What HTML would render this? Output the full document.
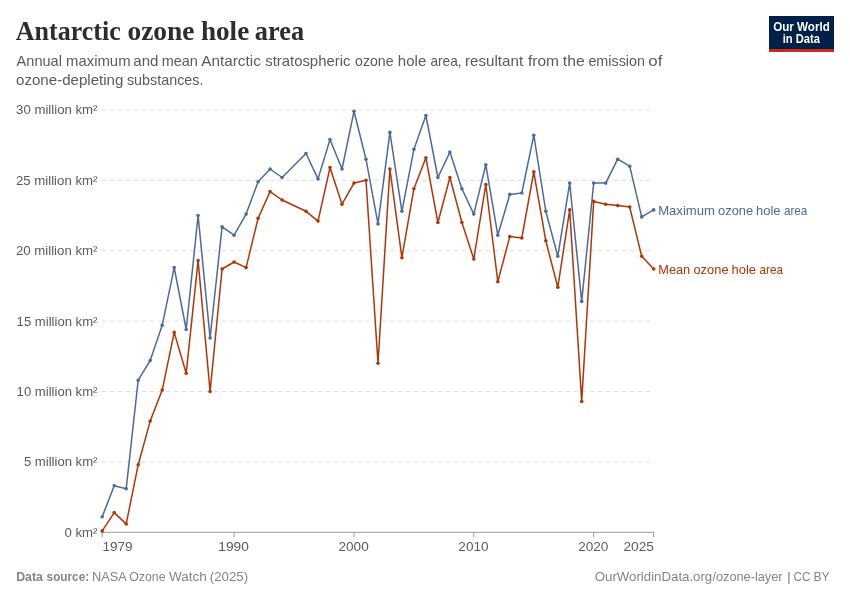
<!DOCTYPE html>
<html lang="en"><head><meta charset="utf-8"><title>Antarctic ozone hole area</title>
<style>
html,body{margin:0;padding:0;background:#fff}
body{width:850px;height:600px;overflow:hidden}
svg{display:block}
</style></head><body>
<svg width="850" height="600" viewBox="0 0 850 600">
<rect width="850" height="600" fill="#fff"/>
<text y="40.3" font-family='"Liberation Serif",serif' font-weight="700" font-size="27.5" fill="#2d2d2d"><tspan x="15.85" textLength="104.90" lengthAdjust="spacingAndGlyphs">Antarctic</tspan> <tspan x="127.45" textLength="67.06" lengthAdjust="spacingAndGlyphs">ozone</tspan> <tspan x="200.92" textLength="48.28" lengthAdjust="spacingAndGlyphs">hole</tspan> <tspan x="254.86" textLength="49.24" lengthAdjust="spacingAndGlyphs">area</tspan></text>
<text y="66.2" font-family='"Liberation Sans",sans-serif' font-weight="400" font-size="15" fill="#5b5b5b"><tspan x="16.57" textLength="45.40" lengthAdjust="spacingAndGlyphs">Annual</tspan> <tspan x="66.01" textLength="64.57" lengthAdjust="spacingAndGlyphs">maximum</tspan> <tspan x="133.36" textLength="25.11" lengthAdjust="spacingAndGlyphs">and</tspan> <tspan x="161.64" textLength="36.31" lengthAdjust="spacingAndGlyphs">mean</tspan> <tspan x="201.37" textLength="59.43" lengthAdjust="spacingAndGlyphs">Antarctic</tspan> <tspan x="265.19" textLength="85.21" lengthAdjust="spacingAndGlyphs">stratospheric</tspan> <tspan x="355.00" textLength="38.63" lengthAdjust="spacingAndGlyphs">ozone</tspan> <tspan x="397.75" textLength="28.52" lengthAdjust="spacingAndGlyphs">hole</tspan> <tspan x="430.42" textLength="31.21" lengthAdjust="spacingAndGlyphs">area,</tspan> <tspan x="464.99" textLength="58.12" lengthAdjust="spacingAndGlyphs">resultant</tspan> <tspan x="527.98" textLength="31.04" lengthAdjust="spacingAndGlyphs">from</tspan> <tspan x="562.76" textLength="21.94" lengthAdjust="spacingAndGlyphs">the</tspan> <tspan x="588.39" textLength="56.54" lengthAdjust="spacingAndGlyphs">emission</tspan> <tspan x="648.29" textLength="14.08" lengthAdjust="spacingAndGlyphs">of</tspan></text>
<text y="84.5" font-family='"Liberation Sans",sans-serif' font-weight="400" font-size="15" fill="#5b5b5b"><tspan x="16.07" textLength="107.30" lengthAdjust="spacingAndGlyphs">ozone-depleting</tspan> <tspan x="126.90" textLength="76.61" lengthAdjust="spacingAndGlyphs">substances.</tspan></text>
<rect x="769" y="16" width="65" height="36" fill="#002147"/>
<rect x="769" y="49" width="65" height="3" fill="#ce261e"/>
<text x="773.23" y="30.8" font-family='"Liberation Sans",sans-serif' font-weight="700" font-size="12.5" fill="#fff" textLength="56.54" lengthAdjust="spacingAndGlyphs">Our World</text>
<text x="782.72" y="43.0" font-family='"Liberation Sans",sans-serif' font-weight="700" font-size="12.5" fill="#fff" textLength="37.21" lengthAdjust="spacingAndGlyphs">in Data</text>
<line x1="102" x2="654" y1="461.9" y2="461.9" stroke="#ddd" stroke-width="1" stroke-dasharray="4,4"/>
<line x1="102" x2="654" y1="391.5" y2="391.5" stroke="#ddd" stroke-width="1" stroke-dasharray="4,4"/>
<line x1="102" x2="654" y1="321.1" y2="321.1" stroke="#ddd" stroke-width="1" stroke-dasharray="4,4"/>
<line x1="102" x2="654" y1="250.7" y2="250.7" stroke="#ddd" stroke-width="1" stroke-dasharray="4,4"/>
<line x1="102" x2="654" y1="180.3" y2="180.3" stroke="#ddd" stroke-width="1" stroke-dasharray="4,4"/>
<line x1="102" x2="654" y1="109.9" y2="109.9" stroke="#ddd" stroke-width="1" stroke-dasharray="4,4"/>
<line x1="101.8" x2="654.1" y1="532.3" y2="532.3" stroke="#999" stroke-width="1"/>
<text x="16.10" y="114.3" font-family='"Liberation Sans",sans-serif' font-weight="400" font-size="13.5" fill="#5b5b5b" textLength="81.35" lengthAdjust="spacingAndGlyphs">30 million km²</text>
<text x="15.94" y="184.7" font-family='"Liberation Sans",sans-serif' font-weight="400" font-size="13.5" fill="#5b5b5b" textLength="81.52" lengthAdjust="spacingAndGlyphs">25 million km²</text>
<text x="15.94" y="255.1" font-family='"Liberation Sans",sans-serif' font-weight="400" font-size="13.5" fill="#5b5b5b" textLength="81.52" lengthAdjust="spacingAndGlyphs">20 million km²</text>
<text x="16.60" y="325.5" font-family='"Liberation Sans",sans-serif' font-weight="400" font-size="13.5" fill="#5b5b5b" textLength="80.85" lengthAdjust="spacingAndGlyphs">15 million km²</text>
<text x="16.60" y="395.9" font-family='"Liberation Sans",sans-serif' font-weight="400" font-size="13.5" fill="#5b5b5b" textLength="80.85" lengthAdjust="spacingAndGlyphs">10 million km²</text>
<text x="23.88" y="466.3" font-family='"Liberation Sans",sans-serif' font-weight="400" font-size="13.5" fill="#5b5b5b" textLength="73.57" lengthAdjust="spacingAndGlyphs">5 million km²</text>
<text x="64.48" y="536.7" font-family='"Liberation Sans",sans-serif' font-weight="400" font-size="13.5" fill="#5b5b5b" textLength="32.97" lengthAdjust="spacingAndGlyphs">0 km²</text>
<line x1="102.2" x2="102.2" y1="532.3" y2="537.3" stroke="#999" stroke-width="1"/>
<line x1="234.1" x2="234.1" y1="532.3" y2="537.3" stroke="#999" stroke-width="1"/>
<line x1="354.0" x2="354.0" y1="532.3" y2="537.3" stroke="#999" stroke-width="1"/>
<line x1="473.8" x2="473.8" y1="532.3" y2="537.3" stroke="#999" stroke-width="1"/>
<line x1="593.7" x2="593.7" y1="532.3" y2="537.3" stroke="#999" stroke-width="1"/>
<line x1="653.7" x2="653.7" y1="532.3" y2="537.3" stroke="#999" stroke-width="1"/>
<text x="102.47" y="550.5" font-family='"Liberation Sans",sans-serif' font-weight="400" font-size="13.5" fill="#5b5b5b" textLength="30.18" lengthAdjust="spacingAndGlyphs">1979</text>
<text x="218.26" y="550.5" font-family='"Liberation Sans",sans-serif' font-weight="400" font-size="13.5" fill="#5b5b5b" textLength="30.58" lengthAdjust="spacingAndGlyphs">1990</text>
<text x="338.49" y="550.5" font-family='"Liberation Sans",sans-serif' font-weight="400" font-size="13.5" fill="#5b5b5b" textLength="30.21" lengthAdjust="spacingAndGlyphs">2000</text>
<text x="458.36" y="550.5" font-family='"Liberation Sans",sans-serif' font-weight="400" font-size="13.5" fill="#5b5b5b" textLength="30.21" lengthAdjust="spacingAndGlyphs">2010</text>
<text x="578.23" y="550.5" font-family='"Liberation Sans",sans-serif' font-weight="400" font-size="13.5" fill="#5b5b5b" textLength="30.21" lengthAdjust="spacingAndGlyphs">2020</text>
<text x="623.41" y="550.5" font-family='"Liberation Sans",sans-serif' font-weight="400" font-size="13.5" fill="#5b5b5b" textLength="30.46" lengthAdjust="spacingAndGlyphs">2025</text>
<path d="M102.2,516.8 L114.2,485.8 L126.2,488.7 L138.2,380.2 L150.2,360.5 L162.2,325.3 L174.2,267.6 L186.2,329.5 L198.1,215.5 L210.1,338.0 L222.1,226.8 L234.1,235.2 L246.1,214.1 L258.1,181.7 L270.1,169.0 L282.1,177.5 L306.0,153.5 L318.0,178.9 L330.0,139.5 L342.0,169.0 L354.0,111.3 L366.0,159.2 L378.0,223.9 L389.9,132.4 L401.9,211.3 L413.9,149.3 L425.9,115.5 L437.9,177.5 L449.9,152.1 L461.9,188.7 L473.8,214.1 L485.8,164.8 L497.8,235.2 L509.8,194.4 L521.8,193.0 L533.8,135.2 L545.8,211.3 L557.8,256.3 L569.7,183.1 L581.7,301.4 L593.7,183.1 L605.7,183.1 L617.7,159.2 L629.7,166.2 L641.7,216.9 L653.7,209.9" fill="none" stroke="#4c6a9c" stroke-width="1.5" stroke-linejoin="round" stroke-linecap="round"/>
<circle cx="102.2" cy="516.8" r="1.8" fill="#4c6a9c"/><circle cx="114.2" cy="485.8" r="1.8" fill="#4c6a9c"/><circle cx="126.2" cy="488.7" r="1.8" fill="#4c6a9c"/><circle cx="138.2" cy="380.2" r="1.8" fill="#4c6a9c"/><circle cx="150.2" cy="360.5" r="1.8" fill="#4c6a9c"/><circle cx="162.2" cy="325.3" r="1.8" fill="#4c6a9c"/><circle cx="174.2" cy="267.6" r="1.8" fill="#4c6a9c"/><circle cx="186.2" cy="329.5" r="1.8" fill="#4c6a9c"/><circle cx="198.1" cy="215.5" r="1.8" fill="#4c6a9c"/><circle cx="210.1" cy="338.0" r="1.8" fill="#4c6a9c"/><circle cx="222.1" cy="226.8" r="1.8" fill="#4c6a9c"/><circle cx="234.1" cy="235.2" r="1.8" fill="#4c6a9c"/><circle cx="246.1" cy="214.1" r="1.8" fill="#4c6a9c"/><circle cx="258.1" cy="181.7" r="1.8" fill="#4c6a9c"/><circle cx="270.1" cy="169.0" r="1.8" fill="#4c6a9c"/><circle cx="282.1" cy="177.5" r="1.8" fill="#4c6a9c"/><circle cx="306.0" cy="153.5" r="1.8" fill="#4c6a9c"/><circle cx="318.0" cy="178.9" r="1.8" fill="#4c6a9c"/><circle cx="330.0" cy="139.5" r="1.8" fill="#4c6a9c"/><circle cx="342.0" cy="169.0" r="1.8" fill="#4c6a9c"/><circle cx="354.0" cy="111.3" r="1.8" fill="#4c6a9c"/><circle cx="366.0" cy="159.2" r="1.8" fill="#4c6a9c"/><circle cx="378.0" cy="223.9" r="1.8" fill="#4c6a9c"/><circle cx="389.9" cy="132.4" r="1.8" fill="#4c6a9c"/><circle cx="401.9" cy="211.3" r="1.8" fill="#4c6a9c"/><circle cx="413.9" cy="149.3" r="1.8" fill="#4c6a9c"/><circle cx="425.9" cy="115.5" r="1.8" fill="#4c6a9c"/><circle cx="437.9" cy="177.5" r="1.8" fill="#4c6a9c"/><circle cx="449.9" cy="152.1" r="1.8" fill="#4c6a9c"/><circle cx="461.9" cy="188.7" r="1.8" fill="#4c6a9c"/><circle cx="473.8" cy="214.1" r="1.8" fill="#4c6a9c"/><circle cx="485.8" cy="164.8" r="1.8" fill="#4c6a9c"/><circle cx="497.8" cy="235.2" r="1.8" fill="#4c6a9c"/><circle cx="509.8" cy="194.4" r="1.8" fill="#4c6a9c"/><circle cx="521.8" cy="193.0" r="1.8" fill="#4c6a9c"/><circle cx="533.8" cy="135.2" r="1.8" fill="#4c6a9c"/><circle cx="545.8" cy="211.3" r="1.8" fill="#4c6a9c"/><circle cx="557.8" cy="256.3" r="1.8" fill="#4c6a9c"/><circle cx="569.7" cy="183.1" r="1.8" fill="#4c6a9c"/><circle cx="581.7" cy="301.4" r="1.8" fill="#4c6a9c"/><circle cx="593.7" cy="183.1" r="1.8" fill="#4c6a9c"/><circle cx="605.7" cy="183.1" r="1.8" fill="#4c6a9c"/><circle cx="617.7" cy="159.2" r="1.8" fill="#4c6a9c"/><circle cx="629.7" cy="166.2" r="1.8" fill="#4c6a9c"/><circle cx="641.7" cy="216.9" r="1.8" fill="#4c6a9c"/><circle cx="653.7" cy="209.9" r="1.8" fill="#4c6a9c"/>
<path d="M102.2,530.9 L114.2,512.6 L126.2,523.9 L138.2,464.7 L150.2,421.1 L162.2,390.1 L174.2,332.4 L186.2,373.2 L198.1,260.6 L210.1,391.5 L222.1,269.0 L234.1,262.0 L246.1,267.6 L258.1,218.3 L270.1,191.6 L282.1,200.0 L306.0,211.3 L318.0,221.1 L330.0,167.6 L342.0,204.2 L354.0,183.1 L366.0,180.3 L378.0,363.3 L389.9,169.0 L401.9,257.7 L413.9,188.7 L425.9,157.8 L437.9,222.5 L449.9,177.5 L461.9,222.5 L473.8,259.1 L485.8,184.5 L497.8,281.7 L509.8,236.6 L521.8,238.0 L533.8,171.9 L545.8,240.8 L557.8,287.3 L569.7,209.9 L581.7,401.4 L593.7,201.4 L605.7,204.2 L617.7,205.6 L629.7,207.1 L641.7,256.3 L653.7,269.0" fill="none" stroke="#b13507" stroke-width="1.5" stroke-linejoin="round" stroke-linecap="round"/>
<circle cx="102.2" cy="530.9" r="1.8" fill="#b13507"/><circle cx="114.2" cy="512.6" r="1.8" fill="#b13507"/><circle cx="126.2" cy="523.9" r="1.8" fill="#b13507"/><circle cx="138.2" cy="464.7" r="1.8" fill="#b13507"/><circle cx="150.2" cy="421.1" r="1.8" fill="#b13507"/><circle cx="162.2" cy="390.1" r="1.8" fill="#b13507"/><circle cx="174.2" cy="332.4" r="1.8" fill="#b13507"/><circle cx="186.2" cy="373.2" r="1.8" fill="#b13507"/><circle cx="198.1" cy="260.6" r="1.8" fill="#b13507"/><circle cx="210.1" cy="391.5" r="1.8" fill="#b13507"/><circle cx="222.1" cy="269.0" r="1.8" fill="#b13507"/><circle cx="234.1" cy="262.0" r="1.8" fill="#b13507"/><circle cx="246.1" cy="267.6" r="1.8" fill="#b13507"/><circle cx="258.1" cy="218.3" r="1.8" fill="#b13507"/><circle cx="270.1" cy="191.6" r="1.8" fill="#b13507"/><circle cx="282.1" cy="200.0" r="1.8" fill="#b13507"/><circle cx="306.0" cy="211.3" r="1.8" fill="#b13507"/><circle cx="318.0" cy="221.1" r="1.8" fill="#b13507"/><circle cx="330.0" cy="167.6" r="1.8" fill="#b13507"/><circle cx="342.0" cy="204.2" r="1.8" fill="#b13507"/><circle cx="354.0" cy="183.1" r="1.8" fill="#b13507"/><circle cx="366.0" cy="180.3" r="1.8" fill="#b13507"/><circle cx="378.0" cy="363.3" r="1.8" fill="#b13507"/><circle cx="389.9" cy="169.0" r="1.8" fill="#b13507"/><circle cx="401.9" cy="257.7" r="1.8" fill="#b13507"/><circle cx="413.9" cy="188.7" r="1.8" fill="#b13507"/><circle cx="425.9" cy="157.8" r="1.8" fill="#b13507"/><circle cx="437.9" cy="222.5" r="1.8" fill="#b13507"/><circle cx="449.9" cy="177.5" r="1.8" fill="#b13507"/><circle cx="461.9" cy="222.5" r="1.8" fill="#b13507"/><circle cx="473.8" cy="259.1" r="1.8" fill="#b13507"/><circle cx="485.8" cy="184.5" r="1.8" fill="#b13507"/><circle cx="497.8" cy="281.7" r="1.8" fill="#b13507"/><circle cx="509.8" cy="236.6" r="1.8" fill="#b13507"/><circle cx="521.8" cy="238.0" r="1.8" fill="#b13507"/><circle cx="533.8" cy="171.9" r="1.8" fill="#b13507"/><circle cx="545.8" cy="240.8" r="1.8" fill="#b13507"/><circle cx="557.8" cy="287.3" r="1.8" fill="#b13507"/><circle cx="569.7" cy="209.9" r="1.8" fill="#b13507"/><circle cx="581.7" cy="401.4" r="1.8" fill="#b13507"/><circle cx="593.7" cy="201.4" r="1.8" fill="#b13507"/><circle cx="605.7" cy="204.2" r="1.8" fill="#b13507"/><circle cx="617.7" cy="205.6" r="1.8" fill="#b13507"/><circle cx="629.7" cy="207.1" r="1.8" fill="#b13507"/><circle cx="641.7" cy="256.3" r="1.8" fill="#b13507"/><circle cx="653.7" cy="269.0" r="1.8" fill="#b13507"/>
<text y="214.7" font-family='"Liberation Sans",sans-serif' font-weight="400" font-size="13.5" fill="#4c6a9c"><tspan x="658.23" textLength="56.63" lengthAdjust="spacingAndGlyphs">Maximum</tspan> <tspan x="718.06" textLength="35.11" lengthAdjust="spacingAndGlyphs">ozone</tspan> <tspan x="756.10" textLength="24.47" lengthAdjust="spacingAndGlyphs">hole</tspan> <tspan x="783.90" textLength="23.40" lengthAdjust="spacingAndGlyphs">area</tspan></text>
<text y="273.8" font-family='"Liberation Sans",sans-serif' font-weight="400" font-size="13.5" fill="#b13507"><tspan x="658.25" textLength="31.98" lengthAdjust="spacingAndGlyphs">Mean</tspan> <tspan x="693.46" textLength="35.11" lengthAdjust="spacingAndGlyphs">ozone</tspan> <tspan x="731.50" textLength="24.47" lengthAdjust="spacingAndGlyphs">hole</tspan> <tspan x="759.50" textLength="23.50" lengthAdjust="spacingAndGlyphs">area</tspan></text>
<text y="581.4" font-family='"Liberation Sans",sans-serif' font-weight="400" font-size="13.5" fill="#858585"><tspan x="16.17" textLength="26.75" lengthAdjust="spacingAndGlyphs" font-weight="700">Data</tspan> <tspan x="46.59" textLength="42.55" lengthAdjust="spacingAndGlyphs" font-weight="700">source:</tspan> <tspan x="91.97" textLength="34.05" lengthAdjust="spacingAndGlyphs">NASA</tspan> <tspan x="129.22" textLength="36.33" lengthAdjust="spacingAndGlyphs">Ozone</tspan> <tspan x="168.94" textLength="37.93" lengthAdjust="spacingAndGlyphs">Watch</tspan> <tspan x="209.78" textLength="38.35" lengthAdjust="spacingAndGlyphs">(2025)</tspan></text>
<text y="581.4" font-family='"Liberation Sans",sans-serif' font-weight="400" font-size="13.5" fill="#858585"><tspan x="594.77" textLength="117.48" lengthAdjust="spacingAndGlyphs">OurWorldinData.org</tspan><tspan x="712.40" textLength="70.21" lengthAdjust="spacingAndGlyphs">/ozone-layer</tspan> <tspan x="787.08" textLength="3.85" lengthAdjust="spacingAndGlyphs">|</tspan> <tspan x="793.61" textLength="16.84" lengthAdjust="spacingAndGlyphs">CC</tspan> <tspan x="813.51" textLength="16.16" lengthAdjust="spacingAndGlyphs">BY</tspan></text>
</svg>
</body></html>
